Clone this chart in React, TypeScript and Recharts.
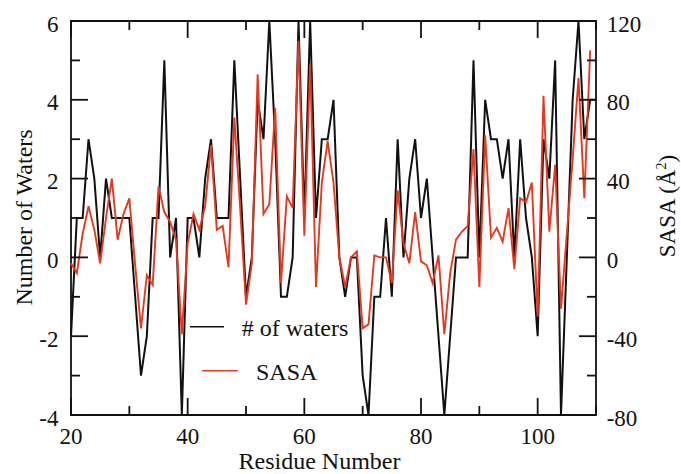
import React from "react";
import { LineChart, Line, XAxis, YAxis, ReferenceArea, Legend } from "recharts";

const residues = [
  20, 21, 22, 23, 24, 25, 26, 27, 28, 29, 30, 31, 32, 33, 34, 35, 36, 37, 38, 39,
  40, 41, 42, 43, 44, 45, 46, 47, 48, 49, 50, 51, 52, 53, 54, 55, 56, 57, 58, 59,
  60, 61, 62, 63, 64, 65, 66, 67, 68, 69, 70, 71, 72, 73, 74, 75, 76, 77, 78, 79,
  80, 81, 82, 83, 84, 85, 86, 87, 88, 89, 90, 91, 92, 93, 94, 95, 96, 97, 98, 99,
  100, 101, 102, 103, 104, 105, 106, 107, 108, 109, 110,
];

const waters = [
  -2, 1, 1, 3, 2, 0, 2, 1, 1, 1, 1, -1, -3, -2, 1, 1, 5, 0, 1, -4,
  1, 1, 0, 2, 3, 1, 1, 1, 5, 2, -1, 0, 4, 3, 6, 3, -1, -1, 0, 6,
  1, 6, 1, 3, 3, 4, 0, -1, 0, 0, -3, -4, -1, -1, 1, -1, 3, 0, 2, 3,
  1, 2, 0, -2, -4, -2, 0, 0, 0, 5, 0, 4, 3, 3, 2, 3, 0, 3, 1, 0,
  -2, 3, 2, 5, -4, 0, 4, 6, 3, 4, 4,
];

const sasa: (number | null)[] = [
  -3, -8, 12, 26, 14, -3, 20, 40, 9, 22, 30, -4, -36, -9, -14, 36, 23, 18, 9, -39,
  7, 22, 14, 26, 57, 14, 16, -5, 71, 25, -24, -3, 93, 22, 27, 76, -13, 31, 25, 110,
  11, 98, -15, 38, 59, 38, 0, -15, 0, 3, -36, -34, 1, 0, 0, -13, 34, 7, -3, 23,
  -2, -4, -13, 1, -39, -8, 9, 13, 16, 55, -15, 62, 10, 15, 8, 25, -6, 30, 28, 38,
  -30, 82, 13, 47, -26, 12, 50, 91, 30, 105, null,
];

const xTicks = [20, 30, 40, 50, 60, 70, 80, 90, 100, 110];
const leftTicks = [-4, -3, -2, -1, 0, 1, 2, 3, 4, 5, 6];
const rightTicks = [-80, -60, -40, -20, 0, 20, 40, 60, 80, 100, 120];

const seriesNames = { waters: "# of waters", sasa: "SASA" };

const data = residues.map((r, i) => ({ residue: r, waters: waters[i], sasa: sasa[i] }));

const FONT = "'Liberation Serif', 'Times New Roman', Times, 'DejaVu Serif', serif";
const INK = "#111";
const RED = "#e5391f";
const AXW = 1.8;
const PLOT_H = 394;
const MAJOR = 17;
const MINOR = 9;

const txt = (size: number) => ({ fontFamily: FONT, fontSize: size, fill: INK });

function XTick(props: any) {
  const { x, y, payload } = props;
  const v = payload.value;
  const major = v % 20 === 0 && v !== 110;
  const len = major ? MAJOR : MINOR;
  return (
    <g>
      <line x1={x} x2={x} y1={y} y2={y - len} stroke={INK} strokeWidth={AXW} />
      <line x1={x} x2={x} y1={y - PLOT_H} y2={y - PLOT_H + len} stroke={INK} strokeWidth={AXW} />
      {major && (
        <text x={x} y={y + 29} textAnchor="middle" style={txt(23)}>
          {v}
        </text>
      )}
    </g>
  );
}

function LeftTick(props: any) {
  const { x, y, payload } = props;
  const v = payload.value;
  const major = v % 2 === 0;
  const len = major ? MAJOR : MINOR;
  return (
    <g>
      <line x1={x} x2={x + len} y1={y} y2={y} stroke={INK} strokeWidth={AXW} />
      {major && (
        <text x={x - 12.5} y={y + 10.5} textAnchor="end" style={txt(23)}>
          {v}
        </text>
      )}
    </g>
  );
}

function RightTick(props: any) {
  const { x, y, payload } = props;
  const v = payload.value;
  const major = v % 40 === 0;
  const len = major ? MAJOR : MINOR;
  return (
    <g>
      <line x1={x} x2={x - len} y1={y} y2={y} stroke={INK} strokeWidth={AXW} />
      {major && (
        <text x={x + 10.7} y={y + 10.5} textAnchor="start" style={txt(23)}>
          {v}
        </text>
      )}
    </g>
  );
}

function XTitle(props: any) {
  const vb = props.viewBox;
  return (
    <text x={vb.x + 248.5} y={vb.y + 54} textAnchor="middle" style={txt(24)}>
      Residue Number
    </text>
  );
}

function LeftTitle(props: any) {
  const vb = props.viewBox;
  const px = vb.x + 31.7;
  const py = vb.y + vb.height / 2 - 0.5;
  return (
    <text x={px} y={py} textAnchor="middle" transform={`rotate(-90, ${px}, ${py})`} style={txt(24)}>
      Number of Waters
    </text>
  );
}

function RightTitle(props: any) {
  const vb = props.viewBox;
  const px = vb.x + 79;
  const py = vb.y + 185;
  return (
    <text x={px} y={py} textAnchor="middle" transform={`rotate(-90, ${px}, ${py})`} style={txt(23)}>
      SASA (Å
      <tspan dy={-9} style={{ fontSize: 14 }}>
        2
      </tspan>
      <tspan dy={9}>)</tspan>
    </text>
  );
}

function LegendBox() {
  return (
    <svg width={200} height={90} style={{ display: "block" }}>
      <line x1={2} x2={36} y1={18.7} y2={18.7} stroke={INK} strokeWidth={1.5} />
      <text x={53.7} y={27.7} style={txt(24)}>
        {seriesNames.waters}
      </text>
      <line x1={14.3} x2={49.7} y1={62.7} y2={62.7} stroke={RED} strokeWidth={1.5} />
      <text x={68} y={72} style={txt(24)}>
        {seriesNames.sasa}
      </text>
    </svg>
  );
}

export default function App() {
  return (
    <div
      style={{
        position: "fixed",
        left: 0,
        top: 0,
        width: 681,
        height: 474,
        overflow: "hidden",
        background: "#fff",
        fontFamily: FONT,
      }}
    >
      <LineChart width={681} height={474} data={data} margin={{ top: 21, right: 0, left: 0, bottom: 0 }}>
        <XAxis
          dataKey="residue"
          type="number"
          domain={[20, 110]}
          ticks={xTicks}
          interval={0}
          height={59}
          axisLine={false}
          tickLine={false}
          tickSize={0}
          tickMargin={0}
          tick={<XTick />}
          label={<XTitle />}
        />
        <YAxis
          yAxisId="left"
          orientation="left"
          type="number"
          domain={[-4, 6]}
          ticks={leftTicks}
          interval={0}
          width={71}
          axisLine={false}
          tickLine={false}
          tickSize={0}
          tickMargin={0}
          tick={<LeftTick />}
          label={<LeftTitle />}
        />
        <YAxis
          yAxisId="right"
          orientation="right"
          type="number"
          domain={[-80, 120]}
          ticks={rightTicks}
          interval={0}
          width={85}
          axisLine={false}
          tickLine={false}
          tickSize={0}
          tickMargin={0}
          tick={<RightTick />}
          label={<RightTitle />}
        />
        <ReferenceArea
          yAxisId="left"
          x1={20}
          x2={110}
          y1={-4}
          y2={6}
          fill="none"
          fillOpacity={0}
          stroke={INK}
          strokeWidth={AXW}
          ifOverflow="visible"
        />
        <Line
          yAxisId="left"
          type="linear"
          dataKey="waters"
          name={seriesNames.waters}
          stroke={INK}
          strokeWidth={2}
          dot={false}
          isAnimationActive={false}
        />
        <Line
          yAxisId="right"
          type="linear"
          dataKey="sasa"
          name={seriesNames.sasa}
          stroke={RED}
          strokeWidth={1.9}
          dot={false}
          isAnimationActive={false}
        />
        <Legend
          layout="vertical"
          align="center"
          verticalAlign="middle"
          wrapperStyle={{ position: "absolute", left: 188, top: 308, width: 200, height: 90 }}
          content={() => <LegendBox />}
        />
      </LineChart>
    </div>
  );
}
